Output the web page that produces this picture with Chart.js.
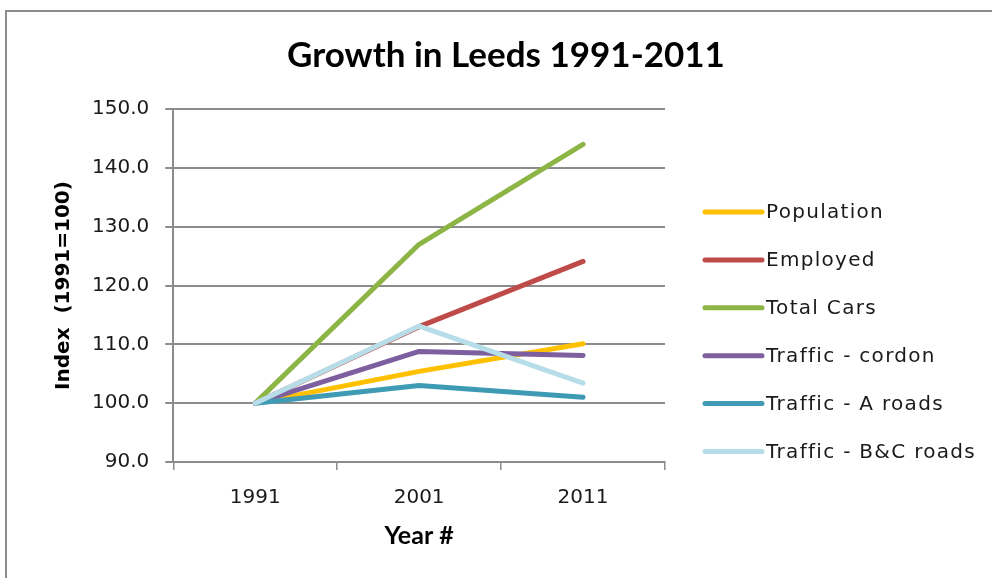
<!DOCTYPE html>
<html>
<head>
<meta charset="utf-8">
<script src="https://cdn.jsdelivr.net/npm/chart.js@4/dist/chart.umd.min.js"></script>
<style>
  html, body { margin: 0; padding: 0; background: #ffffff; overflow: hidden; }
  #wrap { position: relative; width: 992px; height: 578px; }
  #frame { position: absolute; left: 5px; top: 10px; width: 1000px; height: 600px;
           border-left: 2px solid #8c8c8c; border-top: 2px solid #8c8c8c; box-sizing: border-box; pointer-events: none; }
  canvas { position: absolute; left: 0; top: 0; }
</style>
</head>
<body>
<div id="wrap">
  <canvas id="c" width="992" height="578"></canvas>
  <div id="frame"></div>
</div>
<script>
// ---- data ----
const chartTitle = "Growth in Leeds 1991-2011";
const years = ["1991", "2001", "2011"];
const population   = [100.0, 105.4, 110.1];
const employed     = [100.0, 113.0, 124.1];
const totalCars    = [100.0, 127.0, 144.0];
const trafficCordon = [100.0, 108.8, 108.1];
const trafficARoads = [100.0, 103.0, 101.0];
const trafficBCRoads = [100.0, 113.1, 103.4];
const seriesNames = ["Population", "Employed", "Total Cars", "Traffic - cordon", "Traffic - A roads", "Traffic - B&C roads"];
const yTicks = [90, 100, 110, 120, 130, 140, 150];

const seriesValues = [population, employed, totalCars, trafficCordon, trafficARoads, trafficBCRoads];
const seriesColors = ["#FFC000", "#BE4B48", "#8DB545", "#7D5FA0", "#3F9AB4", "#B7DEE8"];

const datasets = seriesNames.map((name, i) => ({
  label: name,
  data: seriesValues[i],
  borderColor: seriesColors[i],
  backgroundColor: seriesColors[i],
  borderWidth: 5,
  borderCapStyle: 'round',
  borderJoinStyle: 'round',
  pointRadius: 0,
  pointHoverRadius: 0,
  tension: 0,
  fill: false,
  order: seriesNames.length - i
}));

const decorPlugin = {
  id: 'decor',
  afterDraw(chart, args, opts) {
    const ctx = chart.ctx;
    ctx.save();
    // title
    ctx.fillStyle = '#000000';
    ctx.font = opts.titleFont;
    ctx.textAlign = 'center';
    ctx.textBaseline = 'alphabetic';
    ctx.fillText(chartTitle, opts.titleX, opts.titleY);
    // legend
    chart.data.datasets.forEach((ds, i) => {
      const y = opts.top + i * opts.step;
      ctx.beginPath();
      ctx.strokeStyle = ds.borderColor;
      ctx.lineWidth = 5;
      ctx.lineCap = 'round';
      ctx.moveTo(opts.x0, y);
      ctx.lineTo(opts.x1, y);
      ctx.stroke();
      ctx.fillStyle = '#1a1a1a';
      ctx.font = opts.font;
      if ('letterSpacing' in ctx) ctx.letterSpacing = opts.spacing;
      ctx.textAlign = 'left';
      ctx.textBaseline = 'middle';
      ctx.fillText(ds.label, opts.textX, y + 1);
    });
    ctx.restore();
  }
};

new Chart(document.getElementById('c'), {
  type: 'line',
  data: { labels: years, datasets: datasets },
  plugins: [decorPlugin],
  options: {
    responsive: false,
    animation: false,
    events: [],
    layout: { padding: { left: 36, right: 327, top: 109, bottom: 15 } },
    plugins: {
      legend: { display: false },
      tooltip: { enabled: false },
      title: { display: false },
      decor: {
        titleFont: 'bold 35px Lato', titleX: 506, titleY: 67,
        x0: 705, x1: 762, textX: 766, top: 212, step: 47.9, font: '20px "DejaVu Sans"', spacing: '1.3px'
      }
    },
    scales: {
      x: {
        type: 'category',
        offset: true,
        grid: { offset: true, drawOnChartArea: false, drawTicks: true, tickLength: 8, color: '#8c8c8c', lineWidth: 1.5 },
        border: { display: true, color: '#8c8c8c', width: 2 },
        ticks: { color: '#1a1a1a', font: { family: 'DejaVu Sans', size: 20 }, padding: 16, maxRotation: 0 },
        title: { display: true, text: 'Year #', color: '#000000', font: { family: 'Lato', size: 25, weight: 'bold', lineHeight: 1.2 }, padding: { top: -5, bottom: 12 } }
      },
      y: {
        min: 90,
        max: 150,
        afterBuildTicks(scale) { scale.ticks = yTicks.map(v => ({ value: v })); },
        grid: { color: '#8c8c8c', lineWidth: 2, tickLength: 8, drawTicks: true },
        border: { display: true, color: '#8c8c8c', width: 2 },
        ticks: { color: '#1a1a1a', font: { family: 'DejaVu Sans', size: 20 }, padding: 16, callback: v => Number(v).toFixed(1) },
        title: { display: true, text: 'Index  (1991=100)', color: '#000000', font: { family: 'DejaVu Sans', size: 20, weight: 'bold', lineHeight: 1.2 }, padding: { top: 16, bottom: 0 } }
      }
    }
  }
});
</script>
</body>
</html>
